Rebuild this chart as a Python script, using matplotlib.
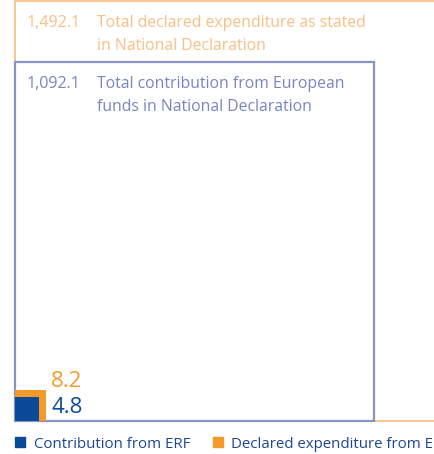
"""
Nested squares comparing declared expenditure with ERF contribution.
Square areas are proportional to the values.
"""

import numpy as np
import matplotlib.pyplot as plt
from matplotlib.patches import Rectangle
from matplotlib.lines import Line2D

plt.rcParams["font.family"] = ["Open Sans", "DejaVu Sans"]

# values (EUR million)
big_values = [1492.1, 1092.1]
big_labels = [["Total declared expenditure as stated", "in National Declaration"],
              ["Total contribution from European", "funds in National Declaration"]]
big_edge = ["#FBC48C", "#8A92C9"]
big_text = ["#F9BF86", "#7985C0"]

erf_values = [8.2, 4.8]
erf_labels = ["Declared expenditure from ERF", "Contribution from ERF"]
erf_colors = ["#F39A2B", "#0B4A99"]

legend_text_color = "#1D4596"

sides = np.sqrt(big_values)
erf_sides = np.sqrt(erf_values)
full = sides[0]

fig = plt.figure(figsize = (4.35, 4.54), dpi = 100)
W, H = 435, 454
# axes box matches the outer square: 420 px, bottom-left at (15, 421)
ax = fig.add_axes([15 / W, (H - 421) / H, 420 / W, 420 / H])
ax.set_xlim(0, full)
ax.set_ylim(0, full)
ax.axis("off")

# outer and inner outlines
ax.add_patch(Rectangle((0, 0), sides[0], sides[0], fill = False, edgecolor = big_edge[0], linewidth = 1.4, clip_on = False))
ax.add_patch(Rectangle((0, 0), sides[1], sides[1], fill = False, edgecolor = big_edge[1], linewidth = 1.6, clip_on = False))

# small ERF squares
for side, color in zip(erf_sides, erf_colors):
    ax.add_patch(Rectangle((0, 0), side, side, facecolor = color, edgecolor = "none", clip_on = False))

# labels of the big squares, one line at a time
for side, value, lines, color in zip(sides, big_values, big_labels, big_text):
    ax.annotate(f"{value:,.1f}", xy = (0, side), xytext = (12, -26), textcoords = "offset pixels",
                ha = "left", va = "baseline", fontsize = 11.6, color = color)
    for i, line in enumerate(lines):
        ax.annotate(line, xy = (0, side), xytext = (82, -26 - 23 * i), textcoords = "offset pixels",
                    ha = "left", va = "baseline", fontsize = 11.3, color = color)

# values of the ERF squares
ax.annotate(f"{erf_values[0]:.1f}", xy = (erf_sides[0], 0), xytext = (5, 34), textcoords = "offset pixels",
            ha = "left", va = "baseline", fontsize = 16, color = erf_colors[0])
ax.annotate(f"{erf_values[1]:.1f}", xy = (erf_sides[0], 0), xytext = (5, 8), textcoords = "offset pixels",
            ha = "left", va = "baseline", fontsize = 16, color = erf_colors[1])

# legend
handles = [Line2D([], [], marker = "s", linestyle = "none", markersize = 7, color = erf_colors[1]),
           Line2D([], [], marker = "s", linestyle = "none", markersize = 7, color = erf_colors[0])]
fig.legend(handles, [erf_labels[1], erf_labels[0]], loc = "center left", bbox_to_anchor = (11 / W, (H - 444) / H),
           ncol = 2, frameon = False, fontsize = 10.8, labelcolor = legend_text_color,
           handlelength = 0.8, handletextpad = 0.5, columnspacing = 1.45, borderaxespad = 0, borderpad = 0.2)

fig.savefig("out.png", dpi = 100)
